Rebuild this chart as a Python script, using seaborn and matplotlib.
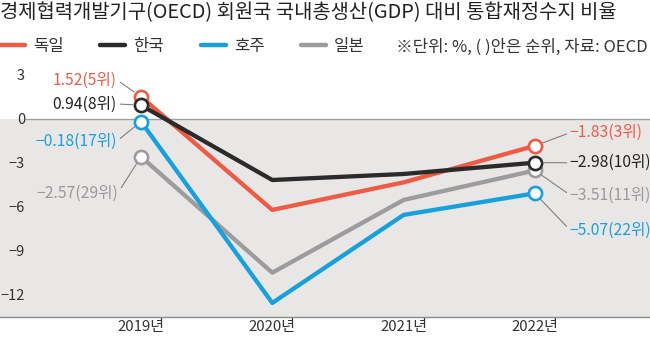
import matplotlib
matplotlib.use("Agg")
import matplotlib.pyplot as plt
from matplotlib.lines import Line2D
import pandas as pd
import seaborn as sns

# ---- data ----
years = ["2019년", "2020년", "2021년", "2022년"]
germany = [1.52, -6.20, -4.32, -1.83]
korea = [0.94, -4.16, -3.75, -2.98]
australia = [-0.18, -12.54, -6.54, -5.07]
japan = [-2.57, -10.48, -5.52, -3.51]
countries = ["독일", "한국", "호주", "일본"]
rank_2019 = ["5위", "8위", "17위", "29위"]
rank_2022 = ["3위", "10위", "22위", "11위"]
y_ticks = [3, 0, -3, -6, -9, -12]
y_tick_labels = ["3", "0", "−3", "−6", "−9", "−12"]
title = "경제협력개발기구(OECD) 회원국 국내총생산(GDP) 대비 통합재정수지 비율"
note = "※단위: %, ( )안은 순위, 자료: OECD"

series = {"독일": germany, "한국": korea, "호주": australia, "일본": japan}
colors = {"독일": "#ef5a45", "한국": "#2b2b2b", "호주": "#17a0dc", "일본": "#9c9c9e"}
label_colors = {"독일": "#ef5a45", "한국": "#222222", "호주": "#17a0dc", "일본": "#9a9a9c"}

rows = []
for c in countries:
    for i, v in enumerate(series[c]):
        rows.append({"x": i, "value": v, "country": c})
df = pd.DataFrame(rows)

sns.set_style("white")
plt.rcParams["font.family"] = ["Noto Sans CJK KR", "DejaVu Sans"]
plt.rcParams["axes.unicode_minus"] = True

fig = plt.figure(figsize=(6.5, 3.42), dpi=100)
ax = fig.add_axes([0, 25 / 342, 1, 252 / 342])
ax.set_facecolor("none")

ymin, ymax = -13.5, 3.68
ax.axhspan(ymin, 0, color="#e8e7e6", lw=0, zorder=0)
ax.axhline(0, xmin=25 / 650, xmax=1, color="#a0a0a0", lw=1.0, zorder=1)

draw_order = ["일본", "호주", "독일", "한국"]
sns.lineplot(data=df, x="x", y="value", hue="country", hue_order=draw_order,
             palette=colors, marker="o", linewidth=3.1, markersize=9.5,
             markevery=[0, 3], legend=False, ax=ax, sort=False, zorder=3)
for line in ax.lines:
    col = line.get_color()
    if line.get_marker() == "o":
        line.set_markerfacecolor("white")
        line.set_markeredgecolor(col)
        line.set_markeredgewidth(1.9)

ax.set_xlim(-1.074, 3.877)
ax.set_ylim(ymin, ymax)
ax.set_xticks(range(len(years)))
ax.set_xticklabels(years)
ax.set_yticks(y_ticks)
ax.set_yticklabels(y_tick_labels)
ax.set_xlabel("")
ax.set_ylabel("")
for s in ["top", "right", "left"]:
    ax.spines[s].set_visible(False)
ax.spines["bottom"].set_color("#8c8c8c")
ax.spines["bottom"].set_linewidth(1.0)
ax.tick_params(axis="x", direction="in", length=6, width=0.8, color="#8c8c8c",
               pad=2.5, labelsize=10.8, labelcolor="#333333")
ax.tick_params(axis="y", length=0, pad=-18.0, labelsize=10.5, labelcolor="#333333")

# ---- value labels ----
left_offsets = {"독일": (-17.3, 12.0), "한국": (-17.3, 0.9),
                "호주": (-17.3, -14.0), "일본": (-16.6, -26.1)}
right_offsets = {"독일": (25.2, 9.4), "한국": (25.2, 0.0),
                 "호주": (25.2, -26.3), "일본": (25.2, -17.6)}

def fmt(v):
    return f"{v:.2f}".replace("-", "−")

for c, r in zip(countries, rank_2019):
    v = series[c][0]
    ax.annotate(f"{fmt(v)}({r})", xy=(0, v), xytext=left_offsets[c],
                textcoords="offset points", ha="right", va="center",
                fontsize=11.3, color=label_colors[c], zorder=6,
                arrowprops=dict(arrowstyle="-", color="#808080", lw=0.8,
                                shrinkA=0, shrinkB=6, relpos=(1, 0.5)))
for c, r in zip(countries, rank_2022):
    v = series[c][3]
    ax.annotate(f"{fmt(v)}({r})", xy=(3, v), xytext=right_offsets[c],
                textcoords="offset points", ha="left", va="center",
                fontsize=11.3, color=label_colors[c], zorder=6,
                arrowprops=dict(arrowstyle="-", color="#808080", lw=0.8,
                                shrinkA=0, shrinkB=6, relpos=(0, 0.5)))

# ---- title, legend, note ----
fig.text(0.0, 1 - 13 / 342, title, ha="left", va="center", fontsize=14.3,
         color="#222222")
handles = [Line2D([], [], color=colors[c], lw=3.2) for c in countries]
fig.legend(handles, countries, loc="center left",
           bbox_to_anchor=(0.0, 1 - 46 / 342), frameon=False, ncol=4,
           borderaxespad=0, borderpad=0, fontsize=12, handlelength=1.5,
           handletextpad=0.48, columnspacing=2.2, labelcolor="#333333")
fig.text(648 / 650, 1 - 47 / 342, note, ha="right", va="center", fontsize=12,
         color="#333333")

fig.savefig("out.png", dpi=100)
